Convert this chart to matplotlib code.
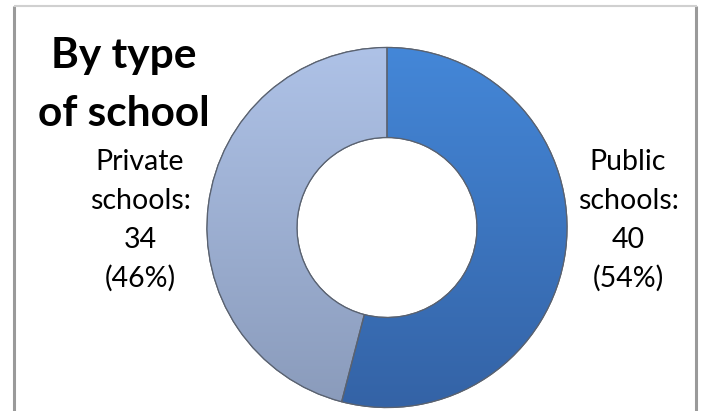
import matplotlib
matplotlib.use("Agg")
import matplotlib.pyplot as plt
import numpy as np
from matplotlib.colors import LinearSegmentedColormap
from matplotlib.patches import Wedge

# ---- data ----
categories = ["Public", "Private"]
counts = [40, 34]
percents = [54, 46]
title_lines = ["By type", "of school"]

W, H = 701, 411
fig = plt.figure(figsize=(W / 100, H / 100), dpi=100)
ax = fig.add_axes([0, 0, 1, 1])

cx, cy = 387, H - 227.5
R = 180
ring = 90

top_cols = ["#4487d8", "#aec2e7"]
bot_cols = ["#3463a6", "#8a9bbb"]

wedges, _ = ax.pie(counts, startangle=90, counterclock=False, center=(cx, cy),
                   radius=R, colors=top_cols,
                   wedgeprops=dict(width=ring, edgecolor="#5a6270", linewidth=0.9),
                   frame=True)
ax.set_xlim(0, W)
ax.set_ylim(0, H)
ax.set_aspect("auto")
ax.axis("off")

# vertical gradient shading clipped to each slice
for w, c1, c2 in zip(wedges, top_cols, bot_cols):
    cmap = LinearSegmentedColormap.from_list("g", [c2, c1])
    grad = np.linspace(0, 1, 256).reshape(-1, 1)
    im = ax.imshow(grad, cmap=cmap, extent=[cx - R, cx + R, cy - R, cy + R],
                   origin="lower", aspect="auto", zorder=w.get_zorder() + 0.1)
    im.set_clip_path(w)
    edge = Wedge(w.center, w.r, w.theta1, w.theta2, width=w.width,
                 facecolor="none", edgecolor="#5a6270",
                 linewidth=0.9, zorder=w.get_zorder() + 0.2)
    ax.add_patch(edge)

# frame lines
ax.plot([14, 14], [0, H - 6.5], color="#9a9a9a", lw=2.2, solid_capstyle="butt")
ax.plot([696, 696], [0, H - 6.5], color="#9a9a9a", lw=2.2, solid_capstyle="butt")
ax.plot([14, 697], [H - 6.5, H - 6.5], color="#d0d0d0", lw=1.5, solid_capstyle="butt")

font = "Lato"
# title
for line, base in zip(title_lines, [68, 126]):
    ax.text(123.5, H - base, line, ha="center", va="baseline", fontsize=30.5,
            fontweight="bold", family=font, color="black")

# slice labels
label_x = [628, 140]
baselines = [170, 209, 248, 287]
for name, n, p, x in zip(categories, counts, percents, label_x):
    lines = [name, "schools:", str(n), f"({p}%)"]
    for line, base in zip(lines, baselines):
        ax.text(x, H - base, line, ha="center", va="baseline", fontsize=20.5,
                family=font, color="black")

fig.savefig("out.png", dpi=100)
